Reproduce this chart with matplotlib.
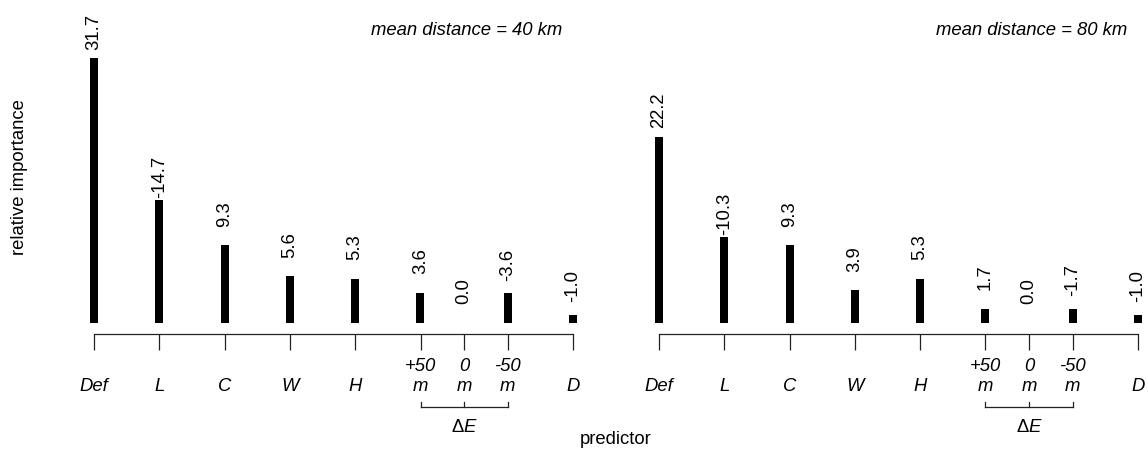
import matplotlib
matplotlib.use("Agg")
import matplotlib.pyplot as plt
import matplotlib.transforms as mtransforms
import numpy as np

# ── Data ──────────────────────────────────────────────────────────────────────
PREDICTORS = ["Def", "L", "C", "W", "H", "+50\nm", "0\nm", "-50\nm", "D"]
IMP_40KM = [31.7, -14.7, 9.3, 5.6, 5.3, 3.6, 0.0, -3.6, -1.0]
IMP_80KM = [22.2, -10.3, 9.3, 3.9, 5.3, 1.7, 0.0, -1.7, -1.0]
PANEL_TITLES = ["mean distance = 40 km", "mean distance = 80 km"]
DELTA_E_GROUP = [5, 6, 7]  # indices of the +50 m / 0 m / -50 m predictors

# ── Layout ────────────────────────────────────────────────────────────────────
# elevation-change predictors sit closer together (2/3 of the normal gap)
gaps = [0, 1, 1, 1, 1, 1, 2 / 3, 2 / 3, 1]
xpos = np.cumsum(gaps)

FS = 13.3
plt.rcParams.update(
    {
        "font.family": ["Liberation Sans", "DejaVu Sans"],
        "font.size": FS,
        "mathtext.fontset": "custom",
        "mathtext.rm": "Liberation Sans",
        "mathtext.it": "Liberation Sans:italic",
        "axes.linewidth": 0.9,
    }
)

W, H = 1148, 450
fig = plt.figure(figsize=(W / 100, H / 100), dpi=100)

px_unit = 65.3          # pixels between neighbouring predictors
base_px = 127           # bar baseline, pixels from bottom
y_scale = 8.36          # pixels per unit of importance
xlim = (-0.5, 7.45)
ax_w = (xlim[1] - xlim[0]) * px_unit
ax_h = H - base_px
left_px = [94 - 0.5 * px_unit, 659 - 0.5 * px_unit]

for panel, (vals, title) in enumerate(zip([IMP_40KM, IMP_80KM], PANEL_TITLES)):
    ax = fig.add_axes([left_px[panel] / W, base_px / H, ax_w / W, ax_h / H])
    vals = np.array(vals)
    ax.bar(xpos, np.abs(vals), width=8 / px_unit, color="black", linewidth=0)
    for x, v in zip(xpos, vals):
        ax.annotate(
            f"{v:.1f}", (x, abs(v)), xytext=(0, 32), textcoords="offset points",
            rotation=90, ha="center", va="top", fontsize=FS,
            annotation_clip=False,
        )
    ax.set_xlim(*xlim)
    ax.set_ylim(0, ax_h / y_scale)

    for side in ["top", "right", "left"]:
        ax.spines[side].set_visible(False)
    ax.spines["bottom"].set_position(("outward", 7.9))
    ax.spines["bottom"].set_bounds(xpos[0], xpos[-1])
    ax.spines["bottom"].set_color("#222222")
    ax.set_yticks([])
    ax.set_xticks(xpos)
    ax.set_xticklabels(
        [lab if "\n" in lab else "\n" + lab for lab in PREDICTORS],
        fontstyle="italic", fontsize=FS,
    )
    ax.tick_params(axis="x", length=11.5, width=0.9, pad=6, color="#222222")

    # bracket grouping the elevation-change predictors
    trans = mtransforms.blended_transform_factory(ax.transData, ax.transAxes)
    g = xpos[DELTA_E_GROUP]
    y_line, y_tick = -84 / ax_h, -79 / ax_h
    ax.plot([g[0], g[-1]], [y_line, y_line], color="#222222", lw=0.9,
            transform=trans, clip_on=False)
    for x in g:
        ax.plot([x, x], [y_line, y_tick], color="#222222", lw=0.9,
                transform=trans, clip_on=False)
    ax.text(g[1], -104 / ax_h, r"$\Delta E$", transform=trans,
            ha="center", va="center", fontsize=FS)

    ax.text(0.965, 0.905, title, transform=ax.transAxes, ha="right",
            va="center", fontstyle="italic", fontsize=FS)

fig.text(20 / W, 1 - 177 / H, "relative importance", rotation=90,
         ha="center", va="center", fontsize=FS)
fig.text(616 / W, 1 - 440 / H, "predictor", ha="center", va="center",
         fontsize=FS)

fig.savefig("out.png", dpi=100)
